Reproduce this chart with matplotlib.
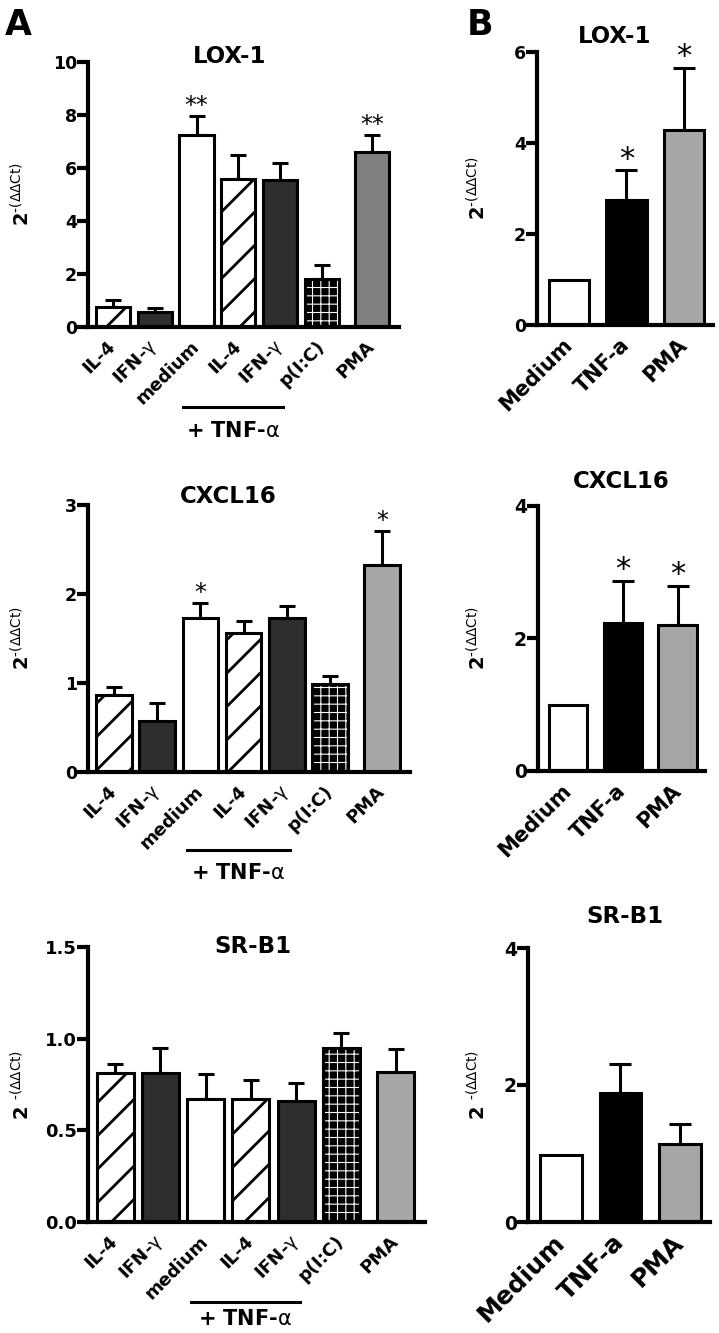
import numpy as np
import matplotlib
matplotlib.use('Agg')
import matplotlib.pyplot as plt
from matplotlib.transforms import blended_transform_factory, ScaledTranslation

plt.rcParams['font.family'] = ['DejaVu Sans']
plt.rcParams['mathtext.fontset'] = 'dejavusans'
plt.rcParams['hatch.linewidth'] = 2.0

# ---- data ----
a_labels = ['IL-4', 'IFN-$\\mathrm{\\gamma}$', 'medium', 'IL-4', 'IFN-$\\mathrm{\\gamma}$', 'p(I:C)', 'PMA']
b_labels = ['Medium', 'TNF-a', 'PMA']

lox_a = [0.75, 0.55, 7.25, 5.58, 5.55, 1.80, 6.60]
lox_a_err = [0.27, 0.15, 0.72, 0.91, 0.65, 0.54, 0.65]
lox_a_sig = ['', '', '**', '', '', '', '**']

cxcl_a = [0.87, 0.57, 1.73, 1.56, 1.73, 0.99, 2.33]
cxcl_a_err = [0.09, 0.21, 0.17, 0.14, 0.14, 0.09, 0.38]
cxcl_a_sig = ['', '', '*', '', '', '', '*']

srb1_a = [0.815, 0.813, 0.670, 0.673, 0.662, 0.950, 0.818]
srb1_a_err = [0.047, 0.137, 0.135, 0.103, 0.098, 0.083, 0.124]
srb1_a_sig = ['', '', '', '', '', '', '']

lox_b = [1.00, 2.75, 4.29]
lox_b_err = [0.0, 0.65, 1.36]
lox_b_sig = ['', '*', '*']

cxcl_b = [0.99, 2.24, 2.21]
cxcl_b_err = [0.0, 0.63, 0.58]
cxcl_b_sig = ['', '*', '*']

srb1_b = [0.98, 1.88, 1.14]
srb1_b_err = [0.0, 0.43, 0.29]
srb1_b_sig = ['', '', '']

# ---- styles ----
a_pos = [0, 1, 2, 3, 4, 5, 6.2]
b_pos = [0, 1, 2]
DARK = '#2e2e2e'
a_styles = ['hatch', 'dark', 'white', 'hatch', 'dark', 'pattern', 'gray']
b_styles = ['white', 'black', 'lgray']

W, H = 719, 1333
fig = plt.figure(figsize=(W / 100, H / 100), dpi=100)


def px_axes(left, right, top, bottom):
    return fig.add_axes([left / W, 1 - bottom / H, (right - left) / W, (bottom - top) / H])


def below(ax, px):
    return blended_transform_factory(ax.transData, ax.transAxes) + \
        ScaledTranslation(0, -px / 100, fig.dpi_scale_trans)


def draw_bar(ax, x, h, style, w, pma_gray):
    if style == 'hatch':
        ax.bar(x, h, w, color='white', edgecolor='black', hatch='/', lw=2.2, zorder=2)
    elif style == 'dark':
        ax.bar(x, h, w, color=DARK, edgecolor='black', lw=2.2, zorder=2)
    elif style == 'white':
        ax.bar(x, h, w, color='white', edgecolor='black', lw=2.2, zorder=2)
    elif style == 'black':
        ax.bar(x, h, w, color='black', edgecolor='black', lw=2.2, zorder=2)
    elif style == 'gray':
        ax.bar(x, h, w, color=pma_gray, edgecolor='black', lw=2.2, zorder=2)
    elif style == 'lgray':
        ax.bar(x, h, w, color='#a6a6a6', edgecolor='black', lw=2.2, zorder=2)
    elif style == 'pattern':
        bb = ax.bar(x, h, w, color='black', edgecolor='white', hatch='++', lw=0, zorder=2)
        for p in bb:
            if hasattr(p, 'set_hatch_linewidth'):
                p.set_hatch_linewidth(0.8)
        ax.bar(x, h, w, color='none', edgecolor='black', lw=2.2, zorder=3)


def panel(box, vals, errs, sig, labels, pos, styles, ylim, yticks, yticklabels,
          title, title_xy, ylab_x, ylab, xlim, width, tick_fs, xtick_fs,
          star_fs, capsize, pma_gray='#a6a6a6', tnf=None):
    left, right, top, bottom = box
    ax = px_axes(left, right, top, bottom)
    for x, v, s in zip(pos, vals, styles):
        draw_bar(ax, x, v, s, width, pma_gray)
    ex = [x for x, e in zip(pos, errs) if e > 0]
    ev = [v for v, e in zip(vals, errs) if e > 0]
    ee = [e for e in errs if e > 0]
    ax.errorbar(ex, ev, yerr=[np.zeros(len(ee)), ee], fmt='none', ecolor='black',
                elinewidth=2.2, capsize=capsize, capthick=2.2, zorder=1)
    for x, v, e, s in zip(pos, vals, errs, sig):
        if s:
            ax.annotate(s, (x, v + e), xytext=(0, 2), textcoords='offset points',
                        ha='center', va='baseline', fontsize=star_fs)
    ax.set_xlim(*xlim)
    ax.set_ylim(*ylim)
    for side in ['top', 'right']:
        ax.spines[side].set_visible(False)
    for side in ['left', 'bottom']:
        ax.spines[side].set_linewidth(3)
        ax.spines[side].set_zorder(5)
        ax.spines[side].set_capstyle('projecting')
    ax.set_yticks(yticks, yticklabels, fontweight='bold', fontsize=tick_fs)
    ax.tick_params(axis='y', length=8, width=3, pad=0)
    ax.set_xticks(pos, labels, rotation=45, ha='right', va='center',
                  rotation_mode='anchor', fontweight='bold', fontsize=xtick_fs)
    ax.tick_params(axis='x', length=0, pad=12)
    ax.text((ylab_x - left) / (right - left), 0.5, ylab, transform=ax.transAxes,
            rotation=90, ha='center', va='center', fontsize=14)
    fig.text(title_xy[0] / W, 1 - title_xy[1] / H, title, ha='center',
             va='baseline', fontsize=16.5, fontweight='bold')
    if tnf:
        line_px, text_px = tnf
        ax.plot([1.68, 4.08], [0, 0], transform=below(ax, line_px), color='black',
                lw=2.2, clip_on=False)
        ax.text(2.88, 0, '+ TNF-$\\mathrm{\\alpha}$', transform=below(ax, text_px),
                ha='center', va='center', fontsize=15, fontweight='bold')
    return ax


ylab1 = '$\\mathbf{2}^{\\mathrm{\u2010(\\Delta\\Delta Ct)}}$'
ylab2 = '$\\mathbf{2}\\ ^{\\mathrm{\u2010(\\Delta\\Delta Ct)}}$'
a_xlim = (-0.6, 6.85)
b_xlim = (-0.55, 2.5)

panel((88, 399, 62, 327), lox_a, lox_a_err, lox_a_sig, a_labels, a_pos, a_styles,
      (0, 10), [0, 2, 4, 6, 8, 10], ['0', '2', '4', '6', '8', '10'],
      'LOX-1', (230, 63), 22, ylab1, a_xlim, 0.82, 12.5, 13, 17, 6,
      pma_gray='#808080', tnf=(80, 104))
panel((88, 410, 505, 772), cxcl_a, cxcl_a_err, cxcl_a_sig, a_labels, a_pos, a_styles,
      (0, 3), [0, 1, 2, 3], ['0', '1', '2', '3'],
      'CXCL16', (228, 503), 22, ylab1, a_xlim, 0.82, 12.5, 13, 17, 6, tnf=(78, 101))
panel((88, 425, 947, 1222), srb1_a, srb1_a_err, srb1_a_sig, a_labels, a_pos, a_styles,
      (0, 1.5), [0, 0.5, 1.0, 1.5], ['0.0', '0.5', '1.0', '1.5'],
      'SR-B1', (253, 953), 22, ylab2, a_xlim, 0.82, 13, 13, 17, 6, tnf=(80, 97))

panel((537, 713, 52, 325), lox_b, lox_b_err, lox_b_sig, b_labels, b_pos, b_styles,
      (0, 6), [0, 2, 4, 6], ['0', '2', '4', '6'],
      'LOX-1', (615, 43), 478, ylab1, b_xlim, 0.7, 12.5, 15, 22, 8)
panel((538, 705, 506, 771), cxcl_b, cxcl_b_err, cxcl_b_sig, b_labels, b_pos, b_styles,
      (0, 4), [0, 2, 4], ['0', '2', '4'],
      'CXCL16', (621, 488), 478, ylab1, b_xlim, 0.7, 13.5, 15, 22, 8)
panel((528, 710, 948, 1222), srb1_b, srb1_b_err, srb1_b_sig, b_labels, b_pos, b_styles,
      (0, 4), [0, 2, 4], ['0', '2', '4'],
      'SR-B1', (625, 923), 478, ylab2, b_xlim, 0.7, 13.5, 18, 22, 8)

fig.text(5 / W, 1 - 35 / H, 'A', fontsize=25, fontweight='bold', va='baseline')
fig.text(467 / W, 1 - 35 / H, 'B', fontsize=25, fontweight='bold', va='baseline')

fig.savefig('out.png', dpi=100)
